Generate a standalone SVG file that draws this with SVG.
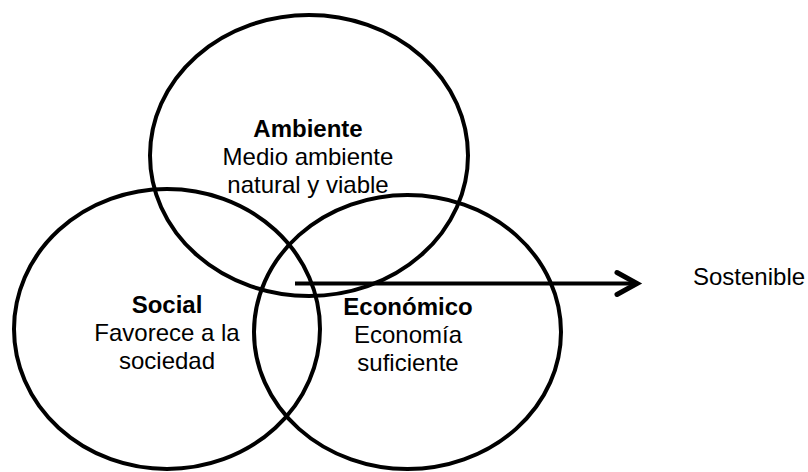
<svg xmlns="http://www.w3.org/2000/svg" width="808" height="472" viewBox="0 0 808 472">
<style>
.c{fill:none;stroke:#000;stroke-width:4}
.t{font-family:"Liberation Sans",Arial,sans-serif;font-size:24px;fill:#000;text-anchor:middle}
.b{font-weight:bold}
</style>
<rect width="808" height="472" fill="#fff"/>
<g id="ambiente">
<ellipse class="c" cx="309" cy="155.5" rx="159" ry="140.5"/>
<text class="t b" x="308" y="137">Ambiente</text>
<text class="t" x="308" y="165">Medio ambiente</text>
<text class="t" x="308" y="193">natural y viable</text>
</g>
<g id="social">
<ellipse class="c" cx="167" cy="329" rx="153" ry="140"/>
<text class="t b" x="167" y="313">Social</text>
<text class="t" x="167" y="341">Favorece a la</text>
<text class="t" x="167" y="369">sociedad</text>
</g>
<g id="economico">
<ellipse class="c" cx="407.5" cy="332" rx="153.5" ry="137"/>
<text class="t b" x="408" y="315">Económico</text>
<text class="t" x="408" y="343">Economía</text>
<text class="t" x="408" y="371">suficiente</text>
</g>
<g id="connectors">
<line x1="295" y1="283.5" x2="636" y2="283.5" stroke="#000" stroke-width="4"/>
<polyline points="617,272.5 637,283.5 617,294.5" fill="none" stroke="#000" stroke-width="5" stroke-linecap="round" stroke-linejoin="miter"/>
</g>
<g id="sostenible">
<text x="693" y="285" style="font-family:'Liberation Sans',Arial,sans-serif;font-size:24px;fill:#000">Sostenible</text>
</g>
</svg>
